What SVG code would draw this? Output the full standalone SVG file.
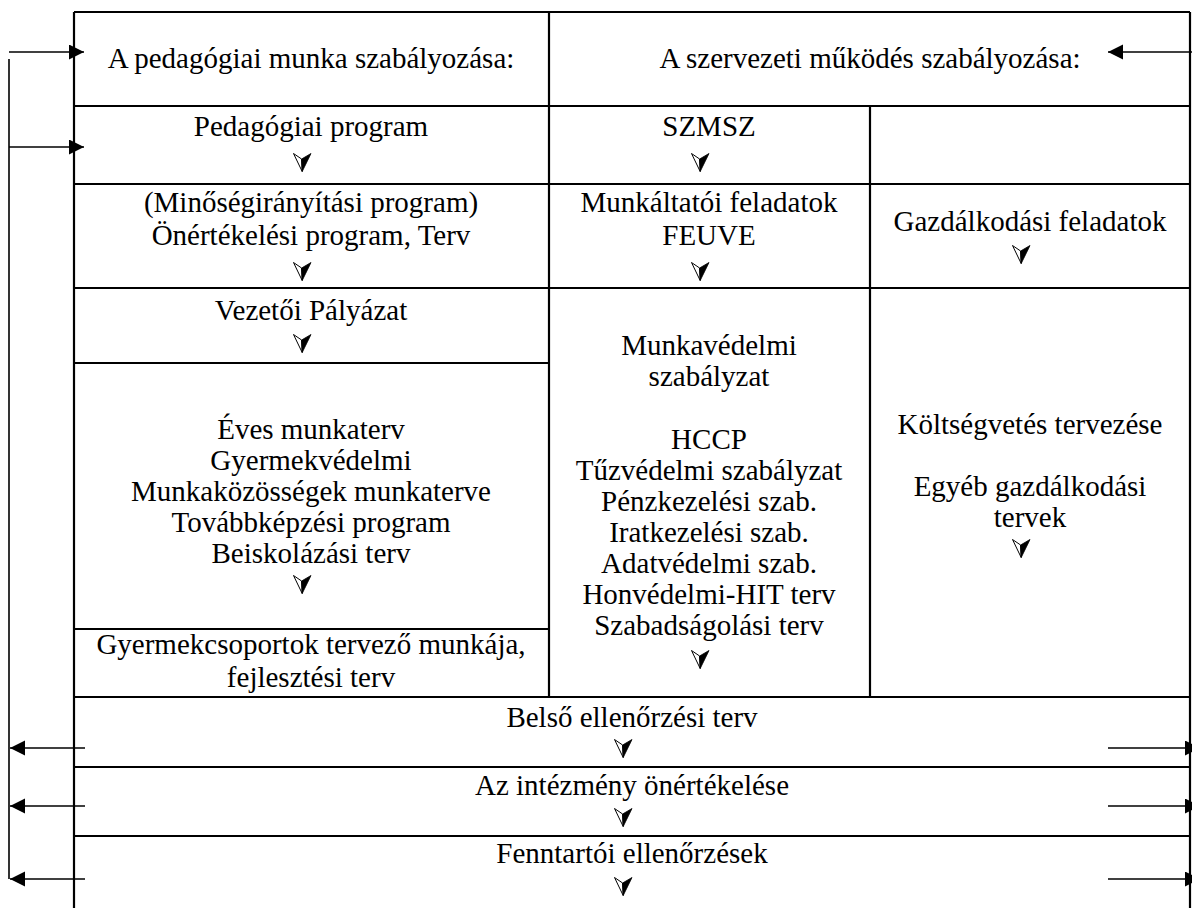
<svg xmlns="http://www.w3.org/2000/svg" width="1192" height="908" viewBox="0 0 1192 908">
<style>
text{font-family:"Liberation Serif","Times New Roman",serif;font-size:29px;fill:#000;text-anchor:middle}
.grid{stroke:#000;stroke-width:2.2;fill:none}
.conn{stroke:#000;stroke-width:1.6;fill:none}
</style>
<defs>
<g id="dn">
<polygon points="0.5,0.5 8.6,6 9.2,18.5" fill="#fff" stroke="#000" stroke-width="1"/>
<polygon points="8.6,6 18,0.5 9.2,18.5" fill="#000" stroke="#000" stroke-width="0.8"/>
</g>
<marker id="ah" markerUnits="userSpaceOnUse" markerWidth="16" markerHeight="16" refX="15" refY="7.5" orient="auto">
<path d="M0,0 L15,7.5 L0,15 Z" fill="#000"/>
</marker>
</defs>
<rect width="1192" height="908" fill="#fff"/>
<g id="table" class="grid">
<path d="M74,12 H1190 M74,12 V908 M1190,12 V908 M549,12 V697 M870,106 V697"/>
<path d="M74,106 H1190 M74,184 H1190 M74,288 H1190 M74,363 H549 M74,629 H549 M74,697 H1190 M74,767 H1190 M74,836 H1190"/>
</g>
<g id="n-ped-head"><text x="311" y="68">A pedagógiai munka szabályozása:</text></g>
<g id="n-szerv-head"><text x="870" y="68">A szervezeti működés szabályozása:</text></g>
<g id="n-pedprog"><text x="311" y="136">Pedagógiai program</text><use href="#dn" x="293" y="153"/></g>
<g id="n-szmsz"><text x="709" y="136">SZMSZ</text><use href="#dn" x="691" y="153"/></g>
<g id="n-minoseg"><text x="311" y="212">(Minőségirányítási program)</text><text x="311" y="245">Önértékelési program, Terv</text><use href="#dn" x="293" y="262"/></g>
<g id="n-munkaltatoi"><text x="709" y="212">Munkáltatói feladatok</text><text x="709" y="245">FEUVE</text><use href="#dn" x="691" y="262"/></g>
<g id="n-gazd"><text x="1030" y="231">Gazdálkodási feladatok</text><use href="#dn" x="1012" y="245"/></g>
<g id="n-vezetoi"><text x="311" y="320">Vezetői Pályázat</text><use href="#dn" x="293" y="334"/></g>
<g id="n-eves"><text x="311" y="439">Éves munkaterv</text><text x="311" y="470">Gyermekvédelmi</text><text x="311" y="501">Munkaközösségek munkaterve</text><text x="311" y="532">Továbbképzési program</text><text x="311" y="563">Beiskolázási terv</text><use href="#dn" x="293" y="575"/></g>
<g id="n-gyermekcs"><text x="311" y="654">Gyermekcsoportok tervező munkája,</text><text x="311" y="687">fejlesztési terv</text></g>
<g id="n-munkaved"><text x="709" y="355">Munkavédelmi</text><text x="709" y="386">szabályzat</text><text x="709" y="449">HCCP</text><text x="709" y="480">Tűzvédelmi szabályzat</text><text x="709" y="511">Pénzkezelési szab.</text><text x="709" y="542">Iratkezelési szab.</text><text x="709" y="573">Adatvédelmi szab.</text><text x="709" y="604">Honvédelmi-HIT terv</text><text x="709" y="635">Szabadságolási terv</text><use href="#dn" x="691" y="650"/></g>
<g id="n-koltseg"><text x="1030" y="434">Költségvetés tervezése</text><text x="1030" y="496">Egyéb gazdálkodási</text><text x="1030" y="527">tervek</text><use href="#dn" x="1012" y="539"/></g>
<g id="n-belso"><text x="632" y="727">Belső ellenőrzési terv</text><use href="#dn" x="614" y="739"/></g>
<g id="n-intezmeny"><text x="632" y="795">Az intézmény önértékelése</text><use href="#dn" x="614" y="808"/></g>
<g id="n-fenntartoi"><text x="632" y="863">Fenntartói ellenőrzések</text><use href="#dn" x="614" y="877"/></g>
<g id="connectors" class="conn">
<path d="M9,59 V879"/>
<path d="M9,52 H84" marker-end="url(#ah)"/>
<path d="M9,147 H84" marker-end="url(#ah)"/>
<path d="M1192,52 H1108" marker-end="url(#ah)"/>
<path d="M85,748 H10" marker-end="url(#ah)"/>
<path d="M85,806 H10" marker-end="url(#ah)"/>
<path d="M85,879 H10" marker-end="url(#ah)"/>
<path d="M1108,748 H1200" marker-end="url(#ah)"/>
<path d="M1108,806 H1200" marker-end="url(#ah)"/>
<path d="M1108,879 H1200" marker-end="url(#ah)"/>
</g>
</svg>
